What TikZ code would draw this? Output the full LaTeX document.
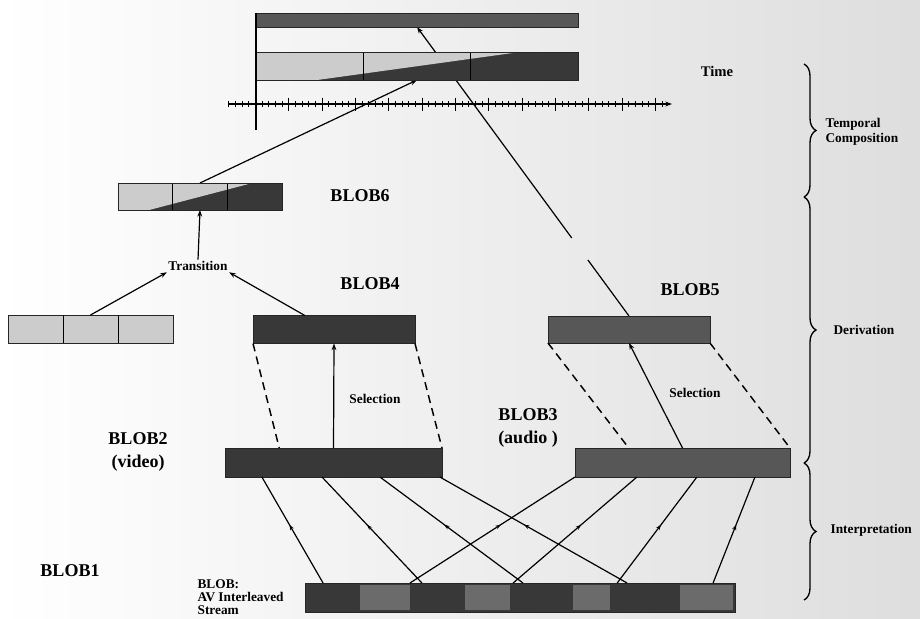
\documentclass[tikz,border=0pt]{standalone}
\usepackage{fontspec}
\setmainfont{Liberation Serif}
\usetikzlibrary{arrows.meta,calc,decorations.pathreplacing,decorations.markings}
\pgfdeclarelayer{paper}
\pgfdeclarelayer{wires}
\pgfsetlayers{paper,wires,main}
\tikzset{
  blobbar/.style={rectangle,draw=black!85,line width=0.6pt,inner sep=0pt,outer sep=0pt},
  vbar/.style={blobbar,fill=black!78},
  abar/.style={blobbar,fill=black!66},
  lbar/.style={blobbar,fill=black!20},
  lbl/.style={font=\bfseries\fontsize{13.5}{17}\selectfont,align=center,inner sep=1pt},
  slbl/.style={font=\bfseries\fontsize{10}{11}\selectfont,align=left,inner sep=1pt},
  ce/.style={-{Stealth[length=5pt,width=3.6pt]},line width=0.9pt},
  pe/.style={line width=0.9pt},
  dse/.style={line width=1.1pt,dash pattern=on 6pt off 4pt},
  me/.style={line width=0.9pt,postaction={decorate},
    decoration={markings,mark=at position .55 with {\arrow{Stealth[length=4pt,width=3pt]}}}},
  brc/.style={decorate,decoration={brace,amplitude=9pt},line width=1pt}
}
% light part of a bar with a wipe towards dark, cut in three pieces
\newcommand{\wipefill}[1]{%
  \fill[black!20] (#1.north west) -- ($(#1.north west)!.82!(#1.north east)$)
    -- ($(#1.south west)!.19!(#1.south east)$) -- (#1.south west) -- cycle;
  \draw[line width=0.6pt] ($(#1.north west)!.333!(#1.north east)$) -- ($(#1.south west)!.333!(#1.south east)$);
  \draw[line width=0.6pt] ($(#1.north west)!.667!(#1.north east)$) -- ($(#1.south west)!.667!(#1.south east)$);
  \draw[line width=0.6pt,draw=black!85] (#1.north west) rectangle (#1.south east);
}

\begin{document}
\begin{tikzpicture}[x=0.75pt,y=-0.75pt]
\useasboundingbox (0,0) rectangle (920,618);
\begin{pgfonlayer}{paper}
\shade[left color=white,middle color=black!2,right color=black!13] (0,0) rectangle (920,618);
\end{pgfonlayer}

% bars
\node[abar,minimum width=241.5pt,minimum height=10.5pt] (topbar) at (417,20) {};
\node[vbar,minimum width=241.5pt,minimum height=21pt] (compbar) at (417,66) {};
\node[vbar,minimum width=123pt,minimum height=20.25pt] (blob6) at (200,196.5) {};
\node[lbar,minimum width=123.75pt,minimum height=21pt] (vidclip) at (90.5,329) {};
\node[vbar,minimum width=121.5pt,minimum height=21pt] (blob4) at (334,329.5) {};
\node[abar,minimum width=121.5pt,minimum height=20.25pt] (blob5) at (629,329.5) {};
\node[vbar,minimum width=162.75pt,minimum height=21.75pt] (blob2) at (333.5,462.5) {};
\node[abar,minimum width=161.25pt,minimum height=21.75pt] (blob3) at (682.5,462.5) {};
\node[vbar,minimum width=322.5pt,minimum height=21.75pt] (blob1) at (520,597.5) {};
\wipefill{compbar}
\wipefill{blob6}
\draw[line width=0.6pt] ($(vidclip.north west)!.333!(vidclip.north east)$) -- ($(vidclip.south west)!.333!(vidclip.south east)$);
\draw[line width=0.6pt] ($(vidclip.north west)!.667!(vidclip.north east)$) -- ($(vidclip.south west)!.667!(vidclip.south east)$);
\foreach \s/\e in {360/410,465/510,573/610,680/733}
  \fill[black!58] (\s,585) rectangle (\e,610);

% labels
\node[slbl,font=\bfseries\fontsize{11}{12}\selectfont] (ltime) at (717,71) {Time};
\node[lbl] (lb6) at (360,196) {BLOB6};
\node[slbl] (trans) at (198,266) {Transition};
\node[lbl] (lb4) at (370,284) {BLOB4};
\node[lbl] (lb5) at (690,290) {BLOB5};
\node[slbl] (sel4) at (375,399) {Selection};
\node[slbl] (sel5) at (695,393) {Selection};
\node[lbl] (lb3) at (528,428) {BLOB3\\(audio~)};
\node[lbl] (lb2) at (138,452) {BLOB2\\(video)};
\node[lbl] (lb1) at (70,571) {BLOB1};
\node[slbl,anchor=west,font=\bfseries\fontsize{10}{10}\selectfont] (lbav) at (196,597) {BLOB:\\AV Interleaved\\Stream};

% time axis
\coordinate (ax0) at (228,104);
\coordinate (ax1) at (672,104);
\coordinate (orig) at (256,130);
\draw[-{Stealth[length=5pt,width=3.6pt]},line width=1pt] (ax0) -- (ax1);
\foreach \i in {-4,...,61}{
  \pgfmathsetmacro\tkx{255.5+6.667*\i}
  \pgfmathsetmacro\tkh{mod(\i,5)==0 ? 6.5 : 2.8}
  \draw[line width=0.9pt] (\tkx,104-\tkh) -- (\tkx,104+\tkh);
}
\draw[pe] (topbar.north west) -- (orig);

\begin{pgfonlayer}{wires}
\coordinate (gap1) at ($(blob5.north)!.194!(topbar.south)$);
\coordinate (gap2) at ($(blob5.north)!.27!(topbar.south)$);
\draw[pe] (blob5.north) -- (gap1);
\draw[ce] (gap2) -- (topbar.south);
\draw[ce] (blob6.north) -- (compbar.south);
\end{pgfonlayer}
\draw[ce] (trans.north) -- (blob6.south);
\draw[ce] (vidclip.north) -- (trans.south west);
\draw[ce] ($(blob4.north west)!.32!(blob4.north east)$) -- (trans.south east);

% selections
\draw[ce] (blob2.north) -- (blob4.south);
\draw[dse] (blob4.south west) -- ($(blob2.north west)!.25!(blob2.north east)$);
\draw[dse] (blob4.south east) -- (blob2.north east);
\draw[ce] (blob3.north) -- (blob5.south);
\draw[dse] (blob5.south west) -- ($(blob3.north west)!.25!(blob3.north east)$);
\draw[dse] (blob5.south east) -- (blob3.north east);

% interpretation
\foreach \a/\b in {.17/.042,.447/.272,.714/.507,.99/.749}
  \draw[me] ($(blob1.north west)!\b!(blob1.north east)$) -- ($(blob2.south west)!\a!(blob2.south east)$);
\foreach \a/\b in {0/.244,.288/.484,.567/.726,.837/.949}
  \draw[me] ($(blob1.north west)!\b!(blob1.north east)$) -- ($(blob3.south west)!\a!(blob3.south east)$);

% braces
\draw[brc] (804,64) -- (804,197);
\draw[brc] (804,197) -- (804,463);
\draw[brc] (804,463) -- (804,600);
\node[slbl,anchor=west] (ltc) at (824,132) {Temporal\\Composition};
\node[slbl,anchor=west] (lder) at (832,330) {Derivation};
\node[slbl,anchor=west] (lint) at (829,530) {Interpretation};
\end{tikzpicture}
\end{document}
